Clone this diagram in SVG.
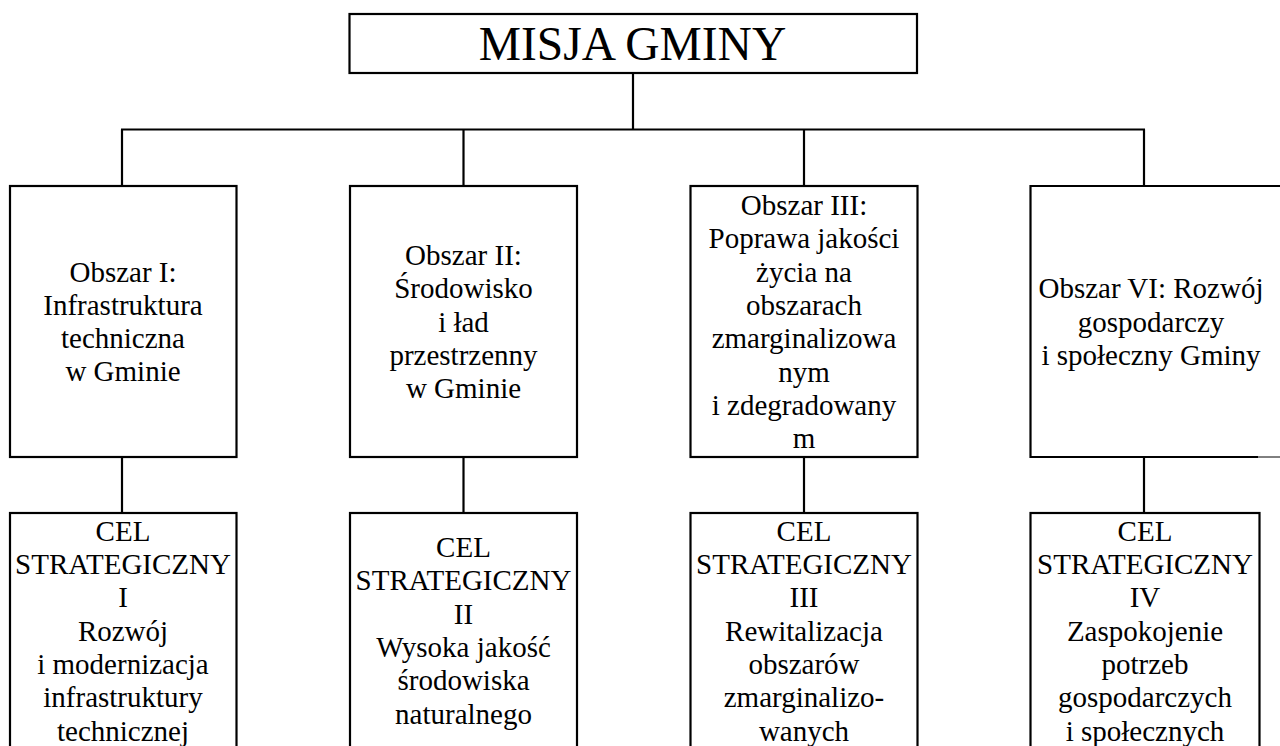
<svg xmlns="http://www.w3.org/2000/svg" width="1280" height="746" viewBox="0 0 1280 746">
<style>
.box{fill:#fff;stroke:#000;stroke-width:2.2}
.ln{fill:none;stroke:#000;stroke-width:2.2}
text{fill:#000;text-anchor:middle}
.t{font-size:29px}
.h{font-size:47.5px}
</style>
<rect width="1280" height="746" fill="#fff"/>
<g font-family="'Liberation Serif', 'DejaVu Serif', serif">
<g id="connectors">
<line class="ln" x1="633" y1="73" x2="633" y2="129.5"/>
<line class="ln" x1="121" y1="129.5" x2="1145" y2="129.5"/>
<line class="ln" x1="122" y1="129.5" x2="122" y2="186"/>
<line class="ln" x1="463.5" y1="129.5" x2="463.5" y2="186"/>
<line class="ln" x1="804" y1="129.5" x2="804" y2="186"/>
<line class="ln" x1="1144" y1="129.5" x2="1144" y2="186"/>
<line class="ln" x1="122" y1="457" x2="122" y2="513"/>
<line class="ln" x1="463.5" y1="457" x2="463.5" y2="513"/>
<line class="ln" x1="804" y1="457" x2="804" y2="513"/>
<line class="ln" x1="1144" y1="457" x2="1144" y2="513"/>
</g>
<g id="misja">
<rect class="box" x="349.5" y="14" width="567.5" height="59"/>
<text class="h" x="632.5" y="60">MISJA GMINY</text>
</g>
<g id="obszar1">
<rect class="box" x="10" y="186" width="226.5" height="271"/>
<text class="t" x="123" y="281.5">Obszar I:</text>
<text class="t" x="123" y="314.8">Infrastruktura</text>
<text class="t" x="123" y="348.1">techniczna</text>
<text class="t" x="123" y="381.4">w Gminie</text>
</g>
<g id="obszar2">
<rect class="box" x="350" y="186" width="227" height="271"/>
<text class="t" x="463.5" y="264.9">Obszar II:</text>
<text class="t" x="463.5" y="298.2">Środowisko</text>
<text class="t" x="463.5" y="331.5">i ład</text>
<text class="t" x="463.5" y="364.8">przestrzenny</text>
<text class="t" x="463.5" y="398.1">w Gminie</text>
</g>
<g id="obszar3">
<rect class="box" x="690.5" y="186" width="227" height="271"/>
<text class="t" x="804" y="215">Obszar III:</text>
<text class="t" x="804" y="248.3">Poprawa jakości</text>
<text class="t" x="804" y="281.6">życia na</text>
<text class="t" x="804" y="314.9">obszarach</text>
<text class="t" x="804" y="348.2">zmarginalizowa</text>
<text class="t" x="804" y="381.5">nym</text>
<text class="t" x="804" y="414.8">i zdegradowany</text>
<text class="t" x="804" y="448.1">m</text>
</g>
<g id="obszar4">
<path class="ln" d="M1290,186 H1030.5 V457 H1258"/>
<line x1="1258" y1="457" x2="1280" y2="457" stroke="#000" stroke-width="1"/>
<text class="t" x="1151" y="298.2">Obszar VI: Rozwój</text>
<text class="t" x="1151" y="331.5">gospodarczy</text>
<text class="t" x="1151" y="364.8">i społeczny Gminy</text>
</g>
<g id="cel1">
<rect class="box" x="10" y="513" width="226.5" height="250"/>
<text class="t" x="123" y="540.7">CEL</text>
<text class="t" x="123" y="574">STRATEGICZNY</text>
<text class="t" x="123" y="607.3">I</text>
<text class="t" x="123" y="640.6">Rozwój</text>
<text class="t" x="123" y="673.9">i modernizacja</text>
<text class="t" x="123" y="707.2">infrastruktury</text>
<text class="t" x="123" y="740.5">technicznej</text>
</g>
<g id="cel2">
<rect class="box" x="350" y="513" width="227" height="250"/>
<text class="t" x="463.5" y="557">CEL</text>
<text class="t" x="463.5" y="590.3">STRATEGICZNY</text>
<text class="t" x="463.5" y="623.6">II</text>
<text class="t" x="463.5" y="656.9">Wysoka jakość</text>
<text class="t" x="463.5" y="690.2">środowiska</text>
<text class="t" x="463.5" y="723.5">naturalnego</text>
</g>
<g id="cel3">
<rect class="box" x="690.5" y="513" width="227" height="250"/>
<text class="t" x="804" y="540.7">CEL</text>
<text class="t" x="804" y="574">STRATEGICZNY</text>
<text class="t" x="804" y="607.3">III</text>
<text class="t" x="804" y="640.6">Rewitalizacja</text>
<text class="t" x="804" y="673.9">obszarów</text>
<text class="t" x="804" y="707.2">zmarginalizo-</text>
<text class="t" x="804" y="740.5">wanych</text>
</g>
<g id="cel4">
<rect class="box" x="1030.5" y="513" width="229" height="250"/>
<text class="t" x="1145" y="540.7">CEL</text>
<text class="t" x="1145" y="574">STRATEGICZNY</text>
<text class="t" x="1145" y="607.3">IV</text>
<text class="t" x="1145" y="640.6">Zaspokojenie</text>
<text class="t" x="1145" y="673.9">potrzeb</text>
<text class="t" x="1145" y="707.2">gospodarczych</text>
<text class="t" x="1145" y="740.5">i społecznych</text>
</g>
</g>
</svg>
